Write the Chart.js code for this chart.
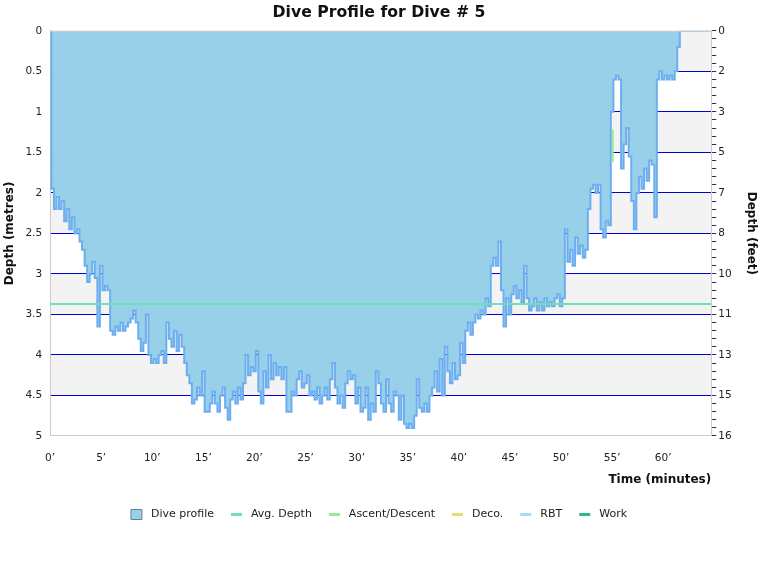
<!DOCTYPE html>
<html>
<head>
<meta charset="utf-8">
<script src="https://cdn.jsdelivr.net/npm/chart.js@4"></script>
<style>
  html, body { margin: 0; padding: 0; background: #fff; }
</style>
</head>
<body>
<canvas id="diveChart" width="760" height="580"></canvas>
<script>
// logged every 15 seconds
const sampleStep = 0.25;
const profileDepths = [
    0, 1.95, 2.2, 2.05,   2.2, 2.1, 2.35, 2.2,   2.45, 2.3, 2.5, 2.45,   2.6, 2.7, 2.9, 3.1,
    3.0, 2.85, 3.05, 3.65,   2.9, 3.2, 3.15, 3.2,   3.7, 3.75, 3.65, 3.7,   3.6, 3.7, 3.65, 3.6,
    3.55, 3.45, 3.6, 3.8,   3.95, 3.85, 3.5, 4.0,   4.1, 4.05, 4.1, 4.0,   3.95, 4.1, 3.6, 3.8,
    3.9, 3.7, 3.95, 3.75,   3.9, 4.1, 4.25, 4.35,   4.6, 4.55, 4.4, 4.5,   4.2, 4.7, 4.7, 4.6,
    4.45, 4.6, 4.7, 4.5,   4.4, 4.65, 4.8, 4.55,   4.45, 4.6, 4.4, 4.55,   4.35, 4.0, 4.25, 4.15,
    4.2, 3.95, 4.45, 4.6,   4.2, 4.4, 4.0, 4.3,   4.1, 4.25, 4.15, 4.3,   4.15, 4.7, 4.7, 4.45,
    4.5, 4.3, 4.2, 4.4,   4.35, 4.25, 4.5, 4.45,   4.55, 4.4, 4.6, 4.5,   4.4, 4.55, 4.3, 4.1,
    4.4, 4.6, 4.5, 4.65,   4.35, 4.2, 4.3, 4.25,   4.6, 4.4, 4.7, 4.65,   4.4, 4.8, 4.6, 4.7,
    4.2, 4.35, 4.6, 4.7,   4.3, 4.6, 4.7, 4.45,   4.5, 4.8, 4.5, 4.85,   4.9, 4.85, 4.9, 4.75,
    4.3, 4.65, 4.7, 4.6,   4.7, 4.5, 4.4, 4.2,   4.45, 4.05, 4.5, 3.9,   4.2, 4.35, 4.1, 4.3,
    4.25, 3.85, 4.1, 3.7,   3.6, 3.75, 3.6, 3.5,   3.55, 3.45, 3.5, 3.3,   3.4, 2.9, 2.8, 2.9,
    2.6, 3.2, 3.65, 3.3,   3.5, 3.25, 3.15, 3.3,   3.2, 3.35, 2.9, 3.3,   3.45, 3.4, 3.3, 3.45,
    3.35, 3.45, 3.3, 3.4,   3.35, 3.4, 3.3, 3.25,   3.4, 3.3, 2.45, 2.85,   2.7, 2.9, 2.55, 2.75,
    2.65, 2.8, 2.7, 2.2,   1.95, 1.9, 2.0, 1.9,   2.45, 2.55, 2.35, 2.4,   1.0, 0.6, 0.55, 0.6,
    1.7, 1.4, 1.2, 1.55,   2.1, 2.45, 2.0, 1.8,   1.95, 1.7, 1.85, 1.6,   1.65, 2.3, 0.6, 0.5,
    0.6, 0.55, 0.6, 0.55,   0.6, 0.5, 0.2, 0,
    0, 0, 0, 0, 0, 0, 0, 0, 0, 0, 0
];
const avgDepth = 3.37;
const ascentTimes = [55.05, 55.05];
const ascentDepths = [1.22, 1.62];
const timeTicks = [0, 5, 10, 15, 20, 25, 30, 35, 40, 45, 50, 55, 60];
const timeMax = 64.7;
const depthMax = 5;
const shadedBands = [[0, 0.5], [1, 1.5], [2, 2.5], [3, 3.5], [4, 4.5]];

const FONT = 'DejaVu Sans, Verdana, sans-serif';
const profilePoints = profileDepths.map((d, i) => ({ x: i * sampleStep, y: d }));

const bandsPlugin = {
    id: 'depthBands',
    beforeDraw(chart) {
        const { ctx, chartArea, scales } = chart;
        ctx.save();
        ctx.fillStyle = '#f3f3f3';
        shadedBands.forEach(([from, to]) => {
            const y1 = scales.y.getPixelForValue(from);
            const y2 = scales.y.getPixelForValue(to);
            ctx.fillRect(chartArea.left, y1, chartArea.right - chartArea.left, y2 - y1);
        });
        ctx.restore();
    },
    afterDatasetsDraw(chart) {
        const { ctx, chartArea } = chart;
        ctx.save();
        ctx.strokeStyle = '#cccccc';
        ctx.lineWidth = 1;
        ctx.beginPath();
        ctx.moveTo(chartArea.left, chartArea.top + 0.5);
        ctx.lineTo(chartArea.right, chartArea.top + 0.5);
        ctx.stroke();
        ctx.restore();
    }
};

const ctx = document.getElementById('diveChart').getContext('2d');
new Chart(ctx, {
    type: 'line',
    data: {
        datasets: [
            {
                label: 'Dive profile',
                data: profilePoints,
                borderColor: '#6daef0',
                backgroundColor: '#99d0e9',
                borderWidth: 2,
                stepped: 'middle',
                fill: 'origin',
                pointRadius: 0,
                pointStyle: 'rect',
                order: 3
            },
            {
                label: 'Avg. Depth',
                data: [{ x: 0, y: avgDepth }, { x: timeMax, y: avgDepth }],
                borderColor: '#70e0b4',
                backgroundColor: '#70e0b4',
                borderWidth: 2,
                pointRadius: 0,
                pointStyle: 'line',
                order: 1
            },
            {
                label: 'Ascent/Descent',
                data: ascentTimes.map((t, i) => ({ x: t, y: ascentDepths[i] })),
                borderColor: '#98e898',
                backgroundColor: '#98e898',
                borderWidth: 2,
                pointRadius: 0,
                pointStyle: 'line',
                order: 2
            },
            {
                label: 'Deco.',
                data: [],
                borderColor: '#dde070',
                backgroundColor: '#dde070',
                borderWidth: 2,
                pointStyle: 'line'
            },
            {
                label: 'RBT',
                data: [],
                borderColor: '#a6dcf4',
                backgroundColor: '#a6dcf4',
                borderWidth: 2,
                pointStyle: 'line'
            },
            {
                label: 'Work',
                data: [],
                borderColor: '#30b68c',
                backgroundColor: '#30b68c',
                borderWidth: 2,
                pointStyle: 'line'
            }
        ]
    },
    options: {
        responsive: false,
        animation: false,
        layout: { padding: { left: 0, right: 2, top: 0, bottom: 50 } },
        plugins: {
            title: {
                display: true,
                text: 'Dive Profile for Dive # 5',
                color: '#111',
                font: { family: FONT, size: 15.7, weight: 'bold' },
                padding: { top: 4, bottom: 8 }
            },
            legend: {
                position: 'bottom',
                labels: {
                    color: '#222',
                    font: { family: FONT, size: 11 },
                    usePointStyle: true,
                    pointStyleWidth: 11,
                    boxHeight: 10,
                    padding: 17,
                    sort: (a, b) => a.datasetIndex - b.datasetIndex,
                    generateLabels(chart) {
                        const items = Chart.defaults.plugins.legend.labels.generateLabels(chart);
                        items.forEach(item => {
                            // a little more room between symbol and text
                            item.text = ' ' + item.text;
                            if (item.datasetIndex === 0) {
                                item.strokeStyle = '#5f8499';
                                item.lineWidth = 1;
                            } else {
                                item.lineWidth = 3;
                            }
                        });
                        return items;
                    }
                }
            },
            tooltip: { enabled: false }
        },
        scales: {
            x: {
                type: 'linear',
                min: 0,
                max: timeMax,
                afterBuildTicks: axis => { axis.ticks = timeTicks.map(v => ({ value: v })); },
                grid: { display: false },
                border: { color: '#cccccc' },
                ticks: {
                    color: '#222',
                    font: { family: FONT, size: 10.5 },
                    padding: 8,
                    maxRotation: 0,
                    autoSkip: false,
                    callback: v => v + '\u2019'
                },
                title: {
                    display: true,
                    text: 'Time (minutes)',
                    align: 'end',
                    color: '#111',
                    font: { family: FONT, size: 12, weight: 'bold' },
                    padding: { top: 0, bottom: 5 }
                }
            },
            y: {
                type: 'linear',
                reverse: true,
                min: 0,
                max: depthMax,
                ticks: {
                    stepSize: 0.5,
                    color: '#222',
                    font: { family: FONT, size: 10.5 },
                    padding: 8,
                    callback: v => v
                },
                grid: {
                    drawTicks: false,
                    color: c => (c.tick.value === 0 || c.tick.value === depthMax) ? 'rgba(0,0,0,0)' : '#0000dd'
                },
                border: { color: '#cccccc' },
                title: {
                    display: true,
                    text: 'Depth (metres)',
                    color: '#111',
                    font: { family: FONT, size: 12, weight: 'bold' },
                    padding: { top: 3, bottom: 0 }
                }
            },
            y2: {
                type: 'linear',
                position: 'right',
                reverse: true,
                min: 0,
                max: depthMax,
                ticks: {
                    stepSize: 0.1,
                    autoSkip: false,
                    color: '#222',
                    font: { family: FONT, size: 10.5 },
                    padding: 2,
                    callback: v => {
                        if (Math.abs(v * 2 - Math.round(v * 2)) > 1e-6) return '';
                        return Math.round(v * 3.28084);
                    }
                },
                grid: {
                    drawOnChartArea: false,
                    tickLength: 5,
                    color: '#333'
                },
                border: { color: '#cccccc' },
                title: {
                    display: true,
                    text: 'Depth (feet)',
                    color: '#111',
                    font: { family: FONT, size: 12, weight: 'bold' },
                    padding: { top: 0, bottom: 10 }
                }
            }
        }
    },
    plugins: [bandsPlugin]
});
</script>
</body>
</html>
